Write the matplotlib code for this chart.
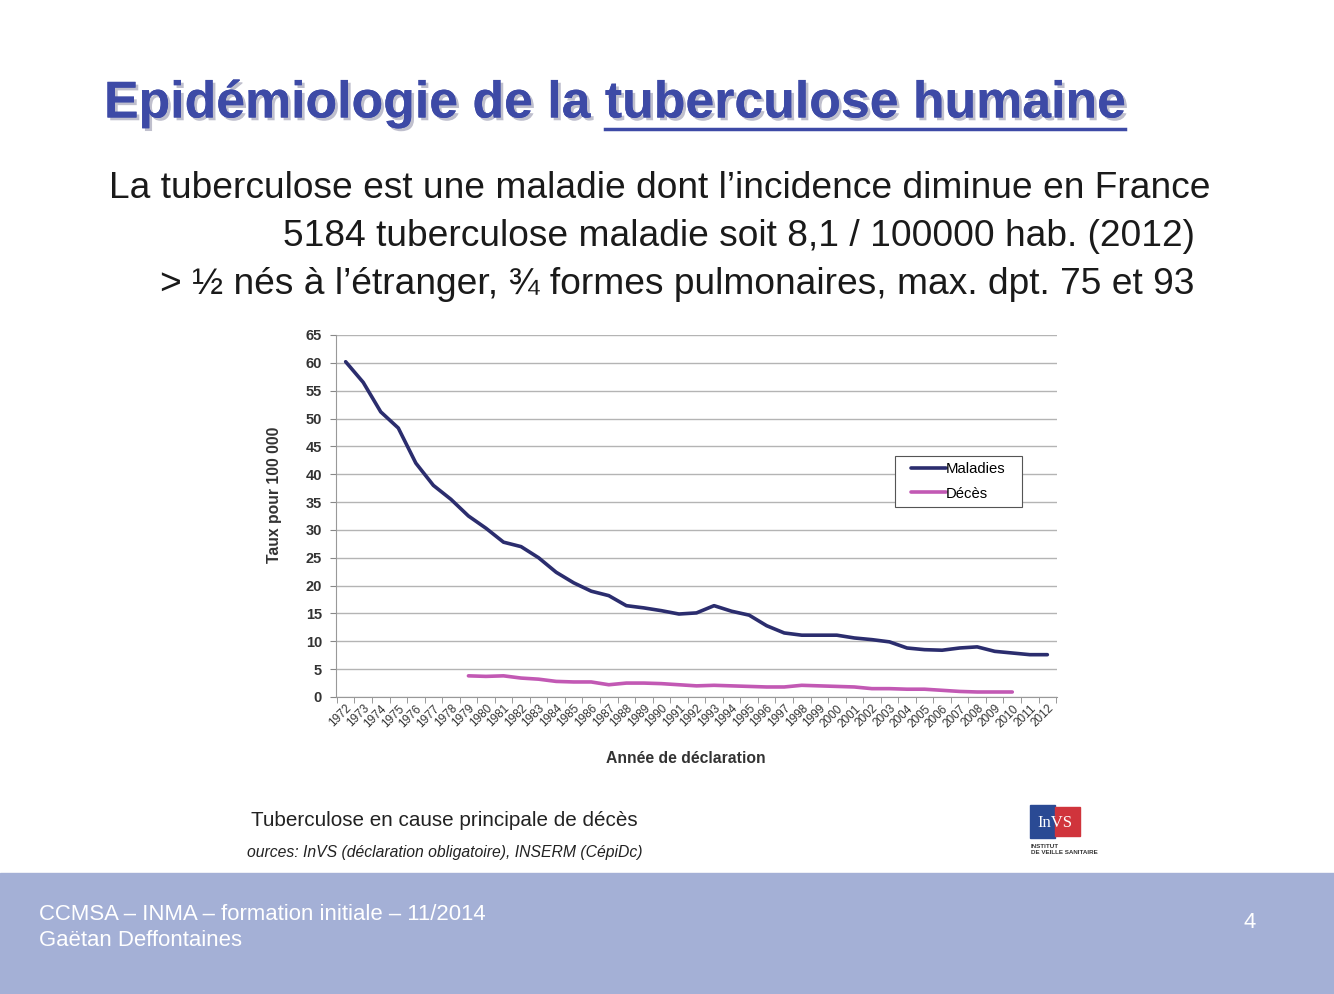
import numpy as np
import matplotlib
matplotlib.use("Agg")
import matplotlib.pyplot as plt
import matplotlib.patheffects as pe
from matplotlib.patches import Rectangle

plt.rcParams['font.family'] = ['Liberation Sans', 'DejaVu Sans']

# donnees
annees = list(range(1972, 2013))
maladies = [60.2, 56.5, 51.2, 48.3, 42.0, 38.0, 35.5, 32.5, 30.3, 27.8,
            27.0, 25.0, 22.4, 20.5, 19.0, 18.2, 16.4, 16.0, 15.5, 14.9,
            15.1, 16.4, 15.4, 14.7, 12.8, 11.5, 11.1, 11.1, 11.1, 10.6,
            10.3, 9.9, 8.8, 8.5, 8.4, 8.8, 9.0, 8.2, 7.9, 7.6, 7.6]
annees_deces = list(range(1979, 2011))
deces = [3.8, 3.7, 3.8, 3.4, 3.2, 2.8, 2.7, 2.7, 2.2, 2.5,
         2.5, 2.4, 2.2, 2.0, 2.1, 2.0, 1.9, 1.8, 1.8, 2.1,
         2.0, 1.9, 1.8, 1.5, 1.5, 1.4, 1.4, 1.2, 1.0, 0.9,
         0.9, 0.9]
y_ticks = list(range(0, 70, 5))

titre_debut = "Epidémiologie de la "
titre_fin = "tuberculose humaine"
lignes = ["La tuberculose est une maladie dont l\u2019incidence diminue en France",
          "5184 tuberculose maladie soit 8,1 / 100000 hab. (2012)",
          "> \u00bd nés à l\u2019étranger, \u00be formes pulmonaires, max. dpt. 75 et 93"]

W, H = 1334, 994
fig = plt.figure(figsize=(W / 100, H / 100), dpi=100)
fig.patch.set_facecolor('white')


def fx(px):
    return px / W


def fy(py):
    return 1 - py / H


ombre = [pe.withSimplePatchShadow(offset=(2, -2), shadow_rgbFace='#b8b8c8', alpha=0.9), pe.Normal()]

# titre avec ombre, partie soulignee mesuree
renderer = fig.canvas.get_renderer()
t_full = fig.text(fx(104), fy(104), titre_debut + titre_fin, fontsize=37.3, fontweight='bold',
                  color='#3d4aa6', va='center', ha='left', path_effects=ombre)
t_tmp = fig.text(fx(104), fy(104), titre_debut + "x", fontsize=37.3, fontweight='bold')
t_x = fig.text(fx(104), fy(104), "x", fontsize=37.3, fontweight='bold')
bb_full = t_full.get_window_extent(renderer)
x_deb = bb_full.x0 + t_tmp.get_window_extent(renderer).width - t_x.get_window_extent(renderer).width
t_tmp.remove()
t_x.remove()
fig.add_artist(plt.Line2D([x_deb / W, bb_full.x1 / W], [fy(129), fy(129)], color='#3d4aa6', lw=2.5))

fig.text(fx(109), fy(188), lignes[0], fontsize=26.7, color='#1a1a1a', va='center', ha='left')
fig.text(fx(283), fy(236), lignes[1], fontsize=26.7, color='#1a1a1a', va='center', ha='left')
fig.text(fx(160), fy(284), lignes[2], fontsize=26.7, color='#1a1a1a', va='center', ha='left')

# graphique
ax = fig.add_axes([fx(336), fy(697), fx(1057 - 336), (697 - 335) / H])
x = np.arange(len(annees))
xd = np.array([annees.index(a) for a in annees_deces])
ax.plot(x, maladies, color='#2b2d6e', lw=2.6, label='Maladies', solid_capstyle='round')
ax.plot(xd, deces, color='#c259b4', lw=2.6, label='Décès', solid_capstyle='round')
ax.set_xlim(-0.55, len(annees) - 0.45)
ax.set_ylim(0, 65)
ax.set_yticks(y_ticks)
ax.set_yticklabels([str(v) for v in y_ticks], fontsize=10.5, fontweight='bold', color='#333333')
ax.yaxis.grid(True, color='#b4b4b4', lw=1)
ax.set_axisbelow(True)
ax.set_xticks(x)
ax.set_xticklabels([str(a) for a in annees], rotation=45, ha='right', rotation_mode='anchor',
                   fontsize=8.5, color='#333333')
ax.set_xticks(np.arange(-0.5, len(annees)), minor=True)
ax.tick_params(axis='x', which='major', length=0, pad=4)
ax.tick_params(axis='x', which='minor', length=4, color='#888888', direction='out')
ax.tick_params(axis='y', length=4, color='#888888', pad=6)
for s in ['top', 'right']:
    ax.spines[s].set_visible(False)
ax.spines['left'].set_color('#999999')
ax.spines['bottom'].set_color('#999999')
ax.set_ylabel("Taux pour 100 000", fontsize=11.3, fontweight='bold', color='#333333')
ax.yaxis.set_label_coords((282 - 336) / 721, (697 - 495) / 362)
ax.set_xlabel("Année de déclaration", fontsize=11.3, fontweight='bold', color='#333333')
ax.xaxis.set_label_coords((686 - 336) / 721, -(751 - 697) / 362)

# legende : cadre dessine a part
leg = ax.legend(loc='upper left', bbox_to_anchor=((907 - 336) / 721, (697 - 458) / 362),
                borderaxespad=0, fontsize=10.7, frameon=False, handlelength=2.3,
                handletextpad=0.0, borderpad=0.3, labelspacing=0.68)
ax.add_patch(Rectangle(((895 - 336) / 721, (697 - 507) / 362), (1022 - 895) / 721, (507 - 456) / 362,
                       transform=ax.transAxes, facecolor='white', edgecolor='#555555', lw=0.8,
                       zorder=4))
leg.set_zorder(5)

fig.text(fx(251), fy(821), "Tuberculose en cause principale de décès", fontsize=14.9,
         color='#222222', va='center', ha='left')
fig.text(fx(247), fy(852), "ources: InVS (déclaration obligatoire), INSERM (CépiDc)", fontsize=11.3,
         style='italic', color='#222222', va='center', ha='left')

# logo InVS
fig.add_artist(Rectangle((fx(1030), fy(838)), fx(25), (838 - 805) / H, color='#2a4a94'))
fig.add_artist(Rectangle((fx(1055), fy(836)), fx(25), (836 - 807) / H, color='#d0343c'))
fig.text(fx(1055), fy(823), "InVS", fontsize=12, family='Liberation Serif', color='white',
         ha='center', va='center')
fig.text(fx(1031), fy(846), "INSTITUT", fontsize=4.5, fontweight='bold', color='#333333', va='center')
fig.text(fx(1031), fy(852), "DE VEILLE SANITAIRE", fontsize=4.5, fontweight='bold', color='#333333',
         va='center')

# bandeau bas
fig.add_artist(Rectangle((0, 0), 1, (H - 873) / H, color='#a4b0d6', zorder=0))
fig.text(fx(39), fy(914), "CCMSA \u2013 INMA \u2013 formation initiale \u2013 11/2014", fontsize=15.9,
         color='white', va='center', ha='left')
fig.text(fx(39), fy(940), "Gaëtan Deffontaines", fontsize=15.9, color='white', va='center', ha='left')
fig.text(fx(1250), fy(923), "4", fontsize=15.9, color='white', va='center', ha='center')

fig.savefig("out.png", dpi=100)
